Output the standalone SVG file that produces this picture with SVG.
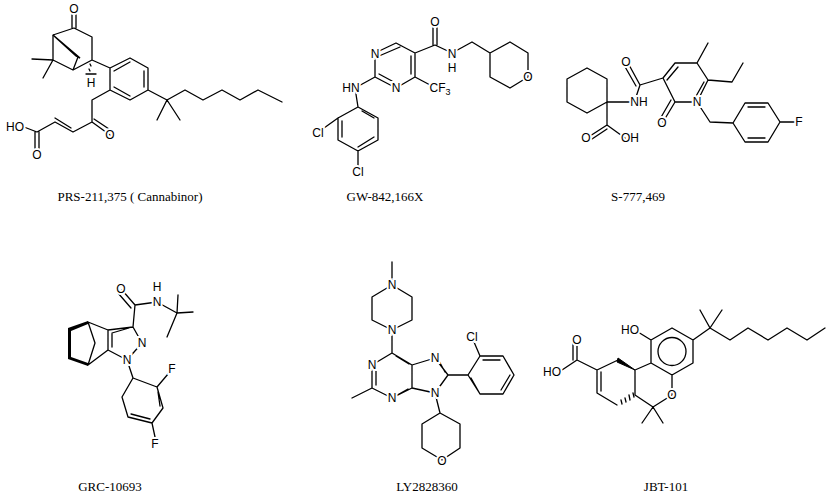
<svg xmlns="http://www.w3.org/2000/svg" width="827" height="498" viewBox="0 0 827 498">
<style>
.b{fill:none;stroke:#000;stroke-width:1.3;stroke-linejoin:round;stroke-linecap:round}
.a{font-family:"Liberation Sans",Arial,sans-serif;font-size:12px;text-anchor:middle;dominant-baseline:central;paint-order:stroke;stroke:#fff;stroke-width:4px;fill:#000}
.s{font-size:9px;stroke-width:2px}
.l{font-family:"Liberation Serif","Times New Roman",serif;font-size:13px;text-anchor:middle;fill:#000}
</style>
<rect width="827" height="498" fill="#fff"/>
<g id="prs">
<path class="b" d="M74,28 L92,37 L92,60 L73,70 L53,60 L53,35 Z M76,28 V12 M72,28 V12 M53,60 L32,59 M53,60 L43,78 M73,70 L78,57 M92,60 L110,68 M110,68 L130,58 L148,68 L148,90 L130,100 L110,90 Z M114,71 L130,62 M144,71 V87 M130,96 L114,87 M110,90 L92,100 L92,122 L110,135 M94,119 L112,131 M92,122 L73,132 L55,122 L37,132 M71,128 L55,118 M39,132 V150 M35,132 V150 M37,132 L24,127 M148,90 L167,100 L157,120 M167,100 L180,120 M167,100 L185,90 L203,100 L222,90 L240,100 L258,90 L282,102"/>
<path d="M53,35 L80,58 L76,56 Z" fill="#000" stroke="#000" stroke-width="1.5"/>
<path class="b" d="M90,64 L91,66 M89,69 L90,71"/>
<text class="a" x="74" y="9">O</text>
<text class="a" x="91" y="83">H</text>
<path class="b" d="M86,74 H96"/>
<text class="a" x="110" y="135">O</text>
<text class="a" x="37" y="155">O</text>
<text class="a" x="15" y="127">HO</text>
<text class="l" x="130" y="201">PRS-211,375 ( Cannabinor)</text>
</g>
<g id="gw">
<path class="b" d="M396,43 L415,53 L415,77 L396,88 L375,77 L375,53 Z M400,47 L379,56 M411,56 V74 M379,74 L392,81 M415,53 L435,45 L452,53 L472,42 L490,53 M490,53 L510,42 L528,53 L528,77 L510,88 L490,77 Z M437,45 V25 M433,45 V25 M415,77 L432,86 M375,77 L355,88 L358,107 M358,107 L378,118 L378,140 L358,151 L338,140 L338,118 Z M362,111 L374,118 M374,137 L358,147 M342,137 V121 M338,118 L324,128 M358,151 V166"/>
<text class="a" x="375" y="54">N</text>
<text class="a" x="396" y="88">N</text>
<text class="a" x="435" y="22">O</text>
<text class="a" x="452" y="54">N</text>
<text class="a" x="452" y="68">H</text>
<text class="a" x="528" y="77">O</text>
<text class="a" x="440" y="88">CF<tspan class="s" dy="4">3</tspan></text>
<text class="a" x="351" y="88">HN</text>
<text class="a" x="318" y="133">Cl</text>
<text class="a" x="358" y="172">Cl</text>
<text class="l" x="385" y="201">GW-842,166X</text>
</g>
<g id="s777">
<path class="b" d="M607,102 L607,79 L587,68 L567,79 L567,102 L587,113 Z M607,102 H635 M607,102 L607,125 L590,136 M607,129 L592,139 M607,125 L625,138 M640,85 L628,63 M636,86 L624,65 M640,85 L635,100 M640,85 L663,78 M663,78 L675,63 L697,63 L708,80 L697,102 L675,102 Z M667,80 L678,67 M704,82 L695,98 M675,102 L663,122 M671,100 L660,119 M697,63 L708,43 M708,80 L732,82 L743,63 M697,102 L710,122 L733,123 M733,123 L745,103 L768,103 L780,122 L768,142 L745,142 Z M748,107 L765,107 M765,138 L748,138 M780,122 L797,122"/>
<text class="a" x="639" y="102">NH</text>
<text class="a" x="586" y="138">O</text>
<text class="a" x="630" y="138">OH</text>
<text class="a" x="626" y="62">O</text>
<text class="a" x="662" y="123">O</text>
<text class="a" x="697" y="102">N</text>
<text class="a" x="799" y="122">F</text>
<text class="l" x="638" y="201">S-777,469</text>
</g>
<g id="grc">
<path class="b" d="M135,305 L122,290 M131,308 L118,293 M135,305 L157,302 L177,313 L178,295 M177,313 L193,312 M177,313 L167,337 M135,305 L133,327 M133,327 L142,343 L127,360 L108,350 L108,330 Z M129,328 L112,333 M112,347 L112,334 M108,330 L88,322 M108,350 L88,365 M88,322 L95,343 L88,365 M127,360 L133,378 M133,378 L157,387 L163,408 L152,423 L128,417 L122,397 Z M158,392 L160,406 M150,419 L131,414 M157,387 L168,374 M152,423 L155,437"/>
<path d="M88,321 L68,328 L68,359 L88,366 L88,363 L71,357 L71,331 L88,324 Z" fill="#000"/>
<text class="a" x="121" y="289">O</text>
<text class="a" x="157" y="302">N</text>
<text class="a" x="157" y="287">H</text>
<text class="a" x="142" y="343">N</text>
<text class="a" x="127" y="360">N</text>
<text class="a" x="172" y="369">F</text>
<text class="a" x="155" y="444">F</text>
<text class="l" x="110" y="491">GRC-10693</text>
</g>
<g id="ly">
<path class="b" d="M392,262 V285 M392,285 L412,297 L412,320 L392,330 L372,320 L372,297 Z M392,330 V353 M392,353 L412,365 L412,388 L392,398 L372,388 L372,365 Z M396,356 L409,364 M376,385 L376,368 M392,398 L408,389 M372,388 L352,398 M412,365 L435,358 L448,375 L435,393 L412,388 M439,361 L445,372 M448,375 L468,375 M468,375 L480,356 L503,356 L514,375 L503,394 L480,394 Z M483,360 L500,360 M510,375 L501,390 M480,394 L471,378 M480,356 L474,342 M435,393 L440,413 M440,413 L460,424 L460,448 L442,460 L422,448 L422,424 Z"/>
<text class="a" x="392" y="285">N</text>
<text class="a" x="392" y="330">N</text>
<text class="a" x="372" y="365">N</text>
<text class="a" x="392" y="398">N</text>
<text class="a" x="435" y="358">N</text>
<text class="a" x="435" y="393">N</text>
<text class="a" x="472" y="337">Cl</text>
<text class="a" x="442" y="461">O</text>
<text class="l" x="427" y="491">LY2828360</text>
</g>
<g id="jbt">
<path class="b" d="M672,328 L693,340 L693,363 L672,375 L651,363 L651,340 Z M651,340 L638,332 M693,340 L710,328 L700,310 M710,328 L722,310 M710,328 L730,340 L748,328 L768,340 L787,328 L807,340 L825,328 M672,375 V395 L653,407 L635,395 L635,370 L651,363 M653,407 L642,423 M653,407 L663,423 M618,360 L597,370 L597,393 L617,405 M601,372 L601,391 M597,370 L577,360 L577,343 M573,360 L573,343 M577,360 L562,370"/>
<circle cx="672" cy="351.5" r="14" class="b"/>
<path d="M635,370 L618,358 L617,362 Z" fill="#000" stroke="#000"/>
<path class="b" d="M633,393 L634,397 M629,395 L630,400 M625,398 L626,402 M621,400 L622,404"/>
<text class="a" x="630" y="330">HO</text>
<text class="a" x="672" y="395">O</text>
<text class="a" x="577" y="340">O</text>
<text class="a" x="552" y="372">HO</text>
<text class="l" x="666" y="491">JBT-101</text>
</g>
</svg>
